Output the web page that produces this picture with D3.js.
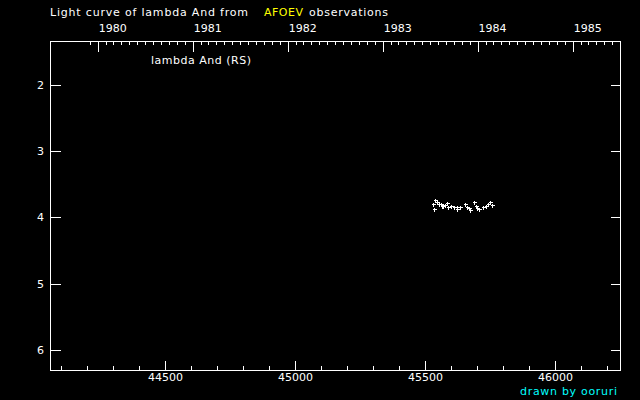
<!DOCTYPE html>
<html><head><meta charset="utf-8">
<script src="https://cdn.jsdelivr.net/npm/d3@7"></script>
<style>
html,body{margin:0;padding:0;background:#000;}
svg{display:block;}
text{font-family:"DejaVu Sans",sans-serif;font-size:11px;fill:#fff;}
</style></head><body>
<svg id="c" width="640" height="400"></svg>
<script>
// Data: JD - 2400000 and visual magnitude
const jd = [45535,45530,45531,45545,45553,45558,45562,45568,45574,45584,45587,45597,45610,45620,45622,45632,45652,45658,45666,45671,45686,45694,45699,45707,45722,45732,45741,45748,45755];
const mag = [3.73,3.80,3.87,3.77,3.80,3.79,3.82,3.83,3.81,3.78,3.85,3.83,3.84,3.84,3.87,3.85,3.80,3.84,3.86,3.89,3.77,3.82,3.86,3.87,3.84,3.82,3.80,3.77,3.81];
const xTicks = [44500,45000,45500,46000];
const yTicks = [2,3,4,5,6];
const years = [1980,1981,1982,1983,1984,1985];
const xDomain = [44058,46250];
const yDomain = [1.335,6.305];

const svg = d3.select("#c");
const L=50.5,R=620.5,T=41,B=370;
const x = d3.scaleLinear().domain(xDomain).range([L,R]);
const y = d3.scaleLinear().domain(yDomain).range([T,B]);
const toJD = dt => dt.getTime()/86400000 + 40587.5;

svg.append("rect").attr("width",640).attr("height",400).attr("fill","#000");

const g = svg.append("g").attr("shape-rendering","crispEdges").attr("stroke","#fff").attr("stroke-width",1);
// frame
g.append("rect").attr("x",L).attr("y",T+0.5).attr("width",R-L).attr("height",B-T).attr("fill","none");

// bottom ticks (minor every 100, major 500)
const minorX = d3.range(44100,46300,100).filter(v=>v>=xDomain[0]&&v<=xDomain[1]);
minorX.forEach(v=>{
  const major = v%500===0;
  g.append("line").attr("x1",Math.round(x(v))+0.5).attr("x2",Math.round(x(v))+0.5)
   .attr("y1",B+0.5).attr("y2",B+0.5-(major?10:5));
});
svg.selectAll(".xl").data(xTicks).enter().append("text")
  .attr("x",d=>x(d)).attr("y",381).attr("text-anchor","middle").text(d=>d);

// top ticks: months and years
const months = d3.utcMonths(new Date(Date.UTC(1979,11,1)), new Date(Date.UTC(1985,11,1)));
months.forEach(m=>{
  const v = toJD(m);
  if(v<xDomain[0]||v>xDomain[1]) return;
  const isYear = m.getUTCMonth()===0;
  g.append("line").attr("x1",Math.round(x(v))+0.5).attr("x2",Math.round(x(v))+0.5)
   .attr("y1",T+0.5).attr("y2",T+0.5+(isYear?10:3));
});
svg.selectAll(".yr").data(years).enter().append("text")
  .attr("x",d=>x(toJD(new Date(Date.UTC(d,0,1))))+1).attr("y",32).text(d=>d);

// y ticks both sides
yTicks.forEach(v=>{
  const yy = Math.round(y(v))+0.5;
  g.append("line").attr("x1",L).attr("x2",L+10).attr("y1",yy).attr("y2",yy);
  g.append("line").attr("x1",R).attr("x2",R-10).attr("y1",yy).attr("y2",yy);
});
svg.selectAll(".yl").data(yTicks).enter().append("text")
  .attr("x",44).attr("y",d=>y(d)+4).attr("text-anchor","end").text(d=>d);

// points as plus signs
const pg = svg.append("g").attr("stroke","#fff").attr("stroke-width",1).attr("shape-rendering","crispEdges");
jd.forEach((d,i)=>{
  const px = Math.round(x(d))+0.5, py = Math.round(y(mag[i]))+0.5;
  pg.append("line").attr("x1",px-2).attr("x2",px+2.5).attr("y1",py).attr("y2",py);
  pg.append("line").attr("x1",px).attr("x2",px).attr("y1",py-2).attr("y2",py+2.5);
});

// texts
svg.append("text").attr("x",50).attr("y",16).attr("textLength",198).text("Light curve of lambda And from");
svg.append("text").attr("x",264).attr("y",16).attr("textLength",39).style("fill","#ffff00").text("AFOEV");
svg.append("text").attr("x",309).attr("y",16).attr("textLength",79).text("observations");
svg.append("text").attr("x",151).attr("y",64).attr("textLength",100).text("lambda And (RS)");
svg.append("text").attr("x",520).attr("y",395).attr("textLength",97).style("fill","#00ffff").text("drawn by ooruri");
</script>
</body></html>
